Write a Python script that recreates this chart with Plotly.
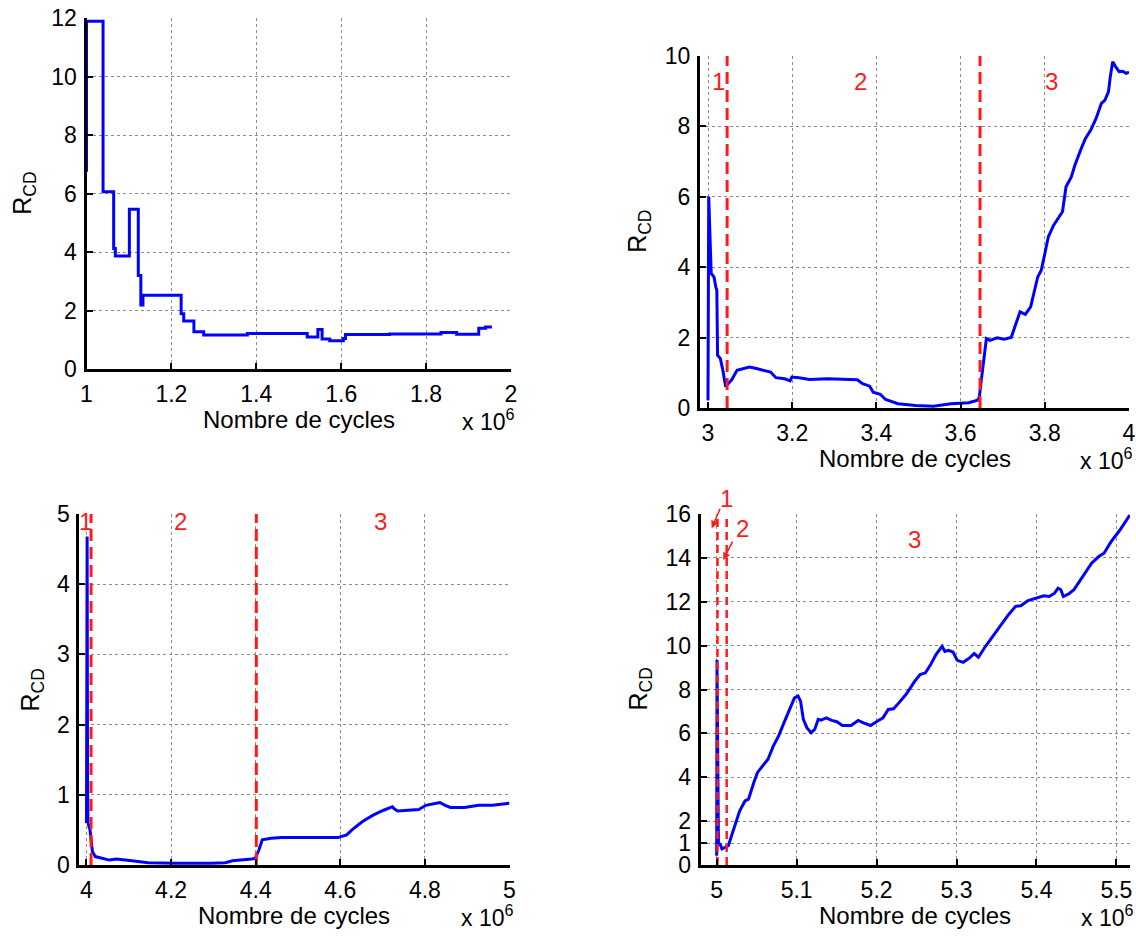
import plotly.graph_objects as go

# ---------------- data ----------------
# Panel 1 (1e6 .. 2e6 cycles), step curve
p1_x = [1.0, 1.0, 1.039, 1.064, 1.068, 1.101, 1.122, 1.128, 1.133, 1.223, 1.229,
        1.253, 1.276, 1.379, 1.52, 1.545, 1.555, 1.573, 1.605, 1.61, 1.714, 1.835,
        1.872, 1.924, 1.94, 1.955]
p1_y = [6.75, 11.9, 6.07, 4.13, 3.87, 5.47, 3.21, 2.2, 2.53, 1.9, 1.65,
        1.28, 1.17, 1.22, 1.1, 1.36, 1.04, 0.98, 1.05, 1.19, 1.21, 1.26,
        1.2, 1.4, 1.45, 1.45]

# Panel 2 (3e6 .. 4e6 cycles)
p2_x = [3.0, 3.0017, 3.0076, 3.0143, 3.0185, 3.021, 3.0227, 3.0294, 3.0353, 3.042,
        3.0479, 3.0563, 3.0689, 3.0815, 3.0983, 3.1151, 3.1319, 3.1487, 3.1613, 3.1824,
        3.195, 3.1992, 3.216, 3.2412, 3.2832, 3.3336, 3.3546, 3.3672, 3.384, 3.3924,
        3.4092, 3.4218, 3.4513, 3.4933, 3.5353, 3.5773, 3.6025, 3.6193, 3.6403, 3.6445,
        3.6487, 3.6613, 3.6697, 3.6866, 3.7034, 3.7202, 3.7328, 3.7412, 3.7538, 3.7664,
        3.7832, 3.7916, 3.8, 3.8084, 3.821, 3.8336, 3.842, 3.8504, 3.863, 3.8714,
        3.8798, 3.8866, 3.8966, 3.9092, 3.9218, 3.9345, 3.9429, 3.9513, 3.9555, 3.9613,
        3.9681, 3.9765, 3.9849, 3.9933, 4.0]
p2_y = [0.22, 6.0, 3.82, 3.72, 3.44, 3.34, 1.5, 1.4, 1.07, 0.6,
        0.69, 0.8, 1.07, 1.1, 1.16, 1.12, 1.07, 1.02, 0.86, 0.83,
        0.77, 0.88, 0.86, 0.81, 0.83, 0.82, 0.8, 0.69, 0.62, 0.45,
        0.39, 0.24, 0.12, 0.07, 0.05, 0.12, 0.14, 0.15, 0.22, 0.31,
        0.74, 1.97, 1.92, 1.99, 1.95, 2.0, 2.44, 2.73, 2.66, 2.87,
        3.72, 3.91, 4.38, 4.86, 5.19, 5.43, 5.57, 6.28, 6.56, 6.89,
        7.18, 7.37, 7.65, 7.89, 8.22, 8.65, 8.74, 8.98, 9.4, 9.83,
        9.69, 9.55, 9.56, 9.5, 9.53]

# Panel 3 (4e6 .. 5e6 cycles)
p3_x = [4.0, 4.0015, 4.0025, 4.0035, 4.0083, 4.0141, 4.0208, 4.0374, 4.054, 4.0707,
        4.0873, 4.1122, 4.1455, 4.212, 4.2951, 4.3283, 4.345, 4.3699, 4.3907, 4.399,
        4.4073, 4.4156, 4.4364, 4.4613, 4.5029, 4.5445, 4.5943, 4.6151, 4.6276, 4.6525,
        4.6775, 4.7024, 4.7232, 4.7274, 4.7357, 4.7606, 4.7855, 4.8022, 4.8354, 4.8479,
        4.8604, 4.8936, 4.9269, 4.9601, 5.0]
p3_y = [0.6, 4.68, 1.2, 0.6, 0.5, 0.19, 0.12, 0.095, 0.07, 0.085,
        0.07, 0.057, 0.033, 0.024, 0.024, 0.033, 0.06, 0.07, 0.085, 0.095,
        0.21, 0.36, 0.38, 0.39, 0.39, 0.4, 0.39, 0.43, 0.5, 0.62,
        0.71, 0.78, 0.83, 0.8, 0.77, 0.78, 0.79, 0.85, 0.89, 0.85,
        0.82, 0.82, 0.85, 0.85, 0.88]

# Panel 4 (5e6 .. 5.52e6 cycles)
p4_x = [5.0, 5.0004, 5.0022, 5.0044, 5.0066, 5.0111, 5.0146, 5.0199, 5.0288, 5.0354,
        5.0398, 5.0465, 5.0509, 5.0575, 5.0642, 5.0708, 5.0774, 5.0841, 5.0907, 5.0973,
        5.1018, 5.1049, 5.1084, 5.1128, 5.1181, 5.1226, 5.127, 5.1305, 5.1372, 5.1438,
        5.1504, 5.1571, 5.1681, 5.177, 5.1836, 5.1925, 5.2013, 5.208, 5.2146, 5.2212,
        5.2279, 5.2367, 5.2478, 5.2544, 5.2611, 5.2677, 5.2743, 5.2819, 5.2854, 5.2898,
        5.2956, 5.3009, 5.3084, 5.3164, 5.3221, 5.3274, 5.3363, 5.3451, 5.3562, 5.365,
        5.3739, 5.3805, 5.3894, 5.4004, 5.4093, 5.4159, 5.4226, 5.427, 5.4305, 5.4336,
        5.4403, 5.4469, 5.458, 5.469, 5.4779, 5.4845, 5.4934, 5.5044, 5.5168]
p4_y = [0.42, 9.36, 0.95, 0.95, 0.73, 0.8, 0.88, 1.48, 2.47, 2.92,
        3.0, 3.76, 4.21, 4.52, 4.82, 5.42, 5.88, 6.48, 7.02, 7.62,
        7.7, 7.47, 6.64, 6.26, 6.03, 6.18, 6.64, 6.6, 6.71, 6.59,
        6.53, 6.36, 6.36, 6.59, 6.48, 6.36, 6.56, 6.71, 7.09, 7.12,
        7.39, 7.77, 8.38, 8.68, 8.76, 9.14, 9.59, 9.97, 9.74, 9.79,
        9.71, 9.33, 9.24, 9.44, 9.64, 9.47, 9.97, 10.42, 10.95, 11.41,
        11.79, 11.82, 12.05, 12.17, 12.27, 12.24, 12.39, 12.62, 12.55, 12.24,
        12.36, 12.55, 13.15, 13.76, 14.06, 14.21, 14.74, 15.27, 15.95]

# Phase boundaries (red dashed lines) and phase labels
p2_bounds = [3.0454, 3.6462]
p3_bounds = [4.0108, 4.4015]
p4_bounds = [5.001, 5.0125]
p2_labels_x = [3.0244, 3.363, 3.817]
p3_labels_x = [3.9967, 4.2228, 4.695]
p4_arrow_tips_x = [4.9938, 5.0082]
p4_arrow_tips_y = [15.35, 13.9]
phase_names = ["1", "2", "3"]

x_ticks = [[1, 1.2, 1.4, 1.6, 1.8, 2],
           [3, 3.2, 3.4, 3.6, 3.8, 4],
           [4, 4.2, 4.4, 4.6, 4.8, 5],
           [5, 5.1, 5.2, 5.3, 5.4, 5.5]]
y_ticks = [[0, 2, 4, 6, 8, 10, 12],
           [0, 2, 4, 6, 8, 10],
           [0, 1, 2, 3, 4, 5],
           [0, 1, 2, 4, 6, 8, 10, 12, 14, 16]]
x_ranges = [[1, 2], [2.981, 4], [3.983, 5], [4.980, 5.517]]
y_ranges = [[0, 12], [0, 10], [0, 5], [0, 16]]

# ---------------- layout geometry (pixels) ----------------
W, H = 1136, 936
# (left, right, top, bottom) of each plot area in pixels
boxes = [(86.5, 511.0, 18.3, 369.3),
         (700.0, 1129.0, 55.7, 408.0),
         (79.3, 509.5, 514.0, 865.0),
         (700.7, 1130.0, 514.0, 865.0)]

FONT = "Liberation Sans, Arial, sans-serif"
BLUE = "#0000FF"
RED = "#FF1A1A"
TICK_SIZE = 23
TEXT_SIZE = 24

fig = go.Figure()

curves = [(p1_x, p1_y, "hv"), (p2_x, p2_y, "linear"), (p3_x, p3_y, "linear"), (p4_x, p4_y, "linear")]
for i, (xs, ys, shape) in enumerate(curves):
    sfx = "" if i == 0 else str(i + 1)
    fig.add_trace(go.Scatter(x=xs, y=ys, mode="lines", line=dict(color=BLUE, width=3, shape=shape),
                             xaxis="x" + sfx, yaxis="y" + sfx, showlegend=False, hoverinfo="skip"))

bounds = [(1, p2_bounds, y_ranges[1], 3, "12px,6px"),
          (2, p3_bounds, y_ranges[2], 3, "12px,6px"),
          (3, p4_bounds, y_ranges[3], 2.5, "8px,5px")]
for i, bl, yr, w, dash in bounds:
    sfx = str(i + 1)
    for b in bl:
        fig.add_trace(go.Scatter(x=[b, b], y=yr, mode="lines", line=dict(color=RED, width=w, dash=dash),
                                 xaxis="x" + sfx, yaxis="y" + sfx, showlegend=False, hoverinfo="skip"))

axis_common = dict(showline=True, linewidth=3, linecolor="black", mirror=False,
                   ticks="inside", ticklen=6, tickwidth=2, tickcolor="black",
                   showgrid=True, gridcolor="#8c8c8c", griddash="dot", gridwidth=1,
                   zeroline=False, automargin=False, ticklabeloverflow="allow",
                   tickfont=dict(family=FONT, size=TICK_SIZE, color="black"))

layout = dict(width=W, height=H, margin=dict(l=0, r=0, t=0, b=0, pad=0, autoexpand=False),
              paper_bgcolor="white", plot_bgcolor="white", showlegend=False)

exp_text = "x 10<sup>6</sup>"
ylab_text = "R<sub>CD</sub>"

annotations = []
for i, (l, r, t, b) in enumerate(boxes):
    sfx = "" if i == 0 else str(i + 1)
    xa = dict(axis_common, domain=[l / W, r / W], range=x_ranges[i], tickvals=x_ticks[i],
              anchor="y" + sfx, ticklabelstandoff=2)
    ya = dict(axis_common, domain=[1 - b / H, 1 - t / H], range=y_ranges[i], tickvals=y_ticks[i],
              anchor="x" + sfx, ticklabelstandoff=2)
    layout["xaxis" + sfx] = xa
    layout["yaxis" + sfx] = ya
    cx = (l + r) / 2
    cy = (t + b) / 2
    annotations.append(dict(text="Nombre de cycles", x=cx / W, y=1 - (b + 50) / H, xref="paper", yref="paper",
                            xanchor="center", yanchor="middle", showarrow=False,
                            font=dict(family=FONT, size=TEXT_SIZE, color="black")))
    annotations.append(dict(text=exp_text, x=min(r + 5, W - 1) / W, y=1 - (b + 68) / H,
                            xref="paper", yref="paper",
                            xanchor="right", yanchor="bottom", showarrow=False,
                            font=dict(family=FONT, size=TICK_SIZE, color="black")))
    ylab_x = [24, 639, 31, 639][i]
    annotations.append(dict(text=ylab_text, x=ylab_x / W, y=1 - cy / H, xref="paper", yref="paper",
                            xanchor="center", yanchor="middle", showarrow=False, textangle=-90,
                            font=dict(family=FONT, size=TEXT_SIZE + 1, color="black")))

for lx, name in zip(p2_labels_x, phase_names):
    annotations.append(dict(text=name, x=lx, y=9.26, xref="x2", yref="y2", showarrow=False,
                            font=dict(family=FONT, size=TEXT_SIZE, color=RED)))
for lx, name in zip(p3_labels_x, phase_names):
    annotations.append(dict(text=name, x=lx, y=4.89, xref="x3", yref="y3", showarrow=False,
                            font=dict(family=FONT, size=TEXT_SIZE, color=RED)))
annotations.append(dict(text=phase_names[2], x=5.2478, y=14.82, xref="x4", yref="y4", showarrow=False,
                        font=dict(family=FONT, size=TEXT_SIZE, color=RED)))
# labels "1" and "2" above/at the top of panel 4, with arrows pointing to the phase boundaries
annotations.append(dict(text=phase_names[0], x=726 / W, y=1 - 498 / H, xref="paper", yref="paper",
                        showarrow=False, font=dict(family=FONT, size=TEXT_SIZE, color=RED)))
annotations.append(dict(text=phase_names[1], x=742 / W, y=1 - 528 / H, xref="paper", yref="paper",
                        showarrow=False, font=dict(family=FONT, size=TEXT_SIZE, color=RED)))
for tx, ty, (dx, dy) in zip(p4_arrow_tips_x, p4_arrow_tips_y, [(9, -21), (10, -20)]):
    annotations.append(dict(text="", x=tx, y=ty, xref="x4", yref="y4", showarrow=True,
                            ax=dx, ay=dy, arrowhead=2, arrowsize=1, arrowwidth=1.5, arrowcolor=RED))

layout["annotations"] = annotations
fig.update_layout(**layout)

page_fix = ("document.body.style.margin='0';"
            "document.body.style.padding='0';"
            "document.documentElement.style.overflow='hidden';"
            "document.body.style.overflow='hidden';")
fig.write_html("out.html", post_script=page_fix, config={"displayModeBar": False})
